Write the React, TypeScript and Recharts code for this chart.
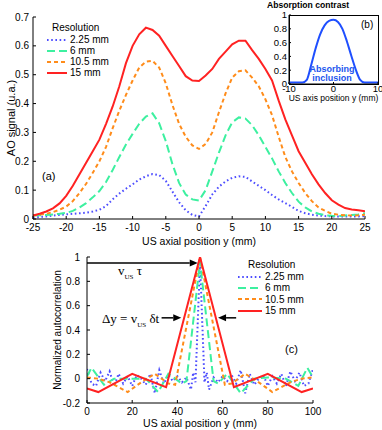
import { LineChart, Line, XAxis, YAxis, Label, ReferenceLine } from 'recharts';

const SANS = '"Liberation Sans", Arial, Helvetica, sans-serif';
const SERIF = '"Liberation Serif", "Times New Roman", serif';

// (a) AO signal along the US axis, one curve per resolution
const positionMm = [
  -25, -24, -23, -22, -21, -20, -19, -18, -17, -16, -15, -14, -13, -12, -11, -10, -9, -8, -7, -6, -5, -4, -3, -2, -1,
  0, 1, 2, 3, 4, 5, 6, 7, 8, 9, 10, 11, 12, 13, 14, 15, 16, 17, 18, 19, 20, 21, 22, 23, 24, 25,
];
const ao225 = [
  0.005, 0.007, 0.009, 0.012, 0.014, 0.016, 0.018, 0.02, 0.022, 0.026, 0.032, 0.045, 0.068, 0.088, 0.105, 0.12, 0.137,
  0.148, 0.156, 0.152, 0.132, 0.095, 0.058, 0.03, 0.014, 0.009, 0.045, 0.085, 0.112, 0.13, 0.143, 0.148, 0.146, 0.13,
  0.115, 0.1, 0.083, 0.068, 0.055, 0.042, 0.028, 0.02, 0.015, 0.012, 0.01, 0.009, 0.009, 0.009, 0.009, 0.009, 0.01,
];
const ao6 = [
  0.012, 0.013, 0.014, 0.016, 0.018, 0.021, 0.028, 0.04, 0.055, 0.075, 0.097, 0.128, 0.17, 0.215, 0.258, 0.295, 0.33,
  0.355, 0.366, 0.332, 0.27, 0.19, 0.125, 0.085, 0.068, 0.064, 0.1, 0.165, 0.23, 0.29, 0.335, 0.352, 0.348, 0.325, 0.29,
  0.25, 0.21, 0.165, 0.125, 0.09, 0.06, 0.04, 0.026, 0.018, 0.013, 0.011, 0.01, 0.012, 0.014, 0.016, 0.02,
];
const ao105 = [
  0.012, 0.015, 0.018, 0.024, 0.032, 0.043, 0.062, 0.09, 0.122, 0.16, 0.2, 0.25, 0.315, 0.375, 0.43, 0.48, 0.525, 0.545,
  0.548, 0.525, 0.47, 0.395, 0.33, 0.285, 0.255, 0.243, 0.26, 0.3, 0.37, 0.435, 0.49, 0.512, 0.515, 0.49, 0.46, 0.415,
  0.36, 0.285, 0.215, 0.165, 0.125, 0.09, 0.062, 0.04, 0.028, 0.018, 0.015, 0.013, 0.012, 0.013, 0.015,
];
const ao15 = [
  0.012, 0.018, 0.026, 0.037, 0.054, 0.08, 0.115, 0.155, 0.195, 0.235, 0.275, 0.33, 0.39, 0.46, 0.54, 0.6, 0.64, 0.663,
  0.655, 0.635, 0.6, 0.565, 0.53, 0.495, 0.48, 0.478, 0.497, 0.52, 0.555, 0.58, 0.605, 0.618, 0.618, 0.585, 0.555, 0.52,
  0.48, 0.41, 0.345, 0.29, 0.235, 0.195, 0.155, 0.12, 0.09, 0.065, 0.05, 0.038, 0.033, 0.03, 0.027,
];
const positionTicks = [-25, -20, -15, -10, -5, 0, 5, 10, 15, 20, 25];
const aoTicks = [0, 0.1, 0.2, 0.3, 0.4, 0.5, 0.6, 0.7];

// (b) inset: absorption contrast of the inclusion
const insetMm = [-10, -9, -8, -7, -6, -5, -4, -3, -2, -1, 0, 1, 2, 3, 4, 5, 6, 7, 8, 9, 10];
const contrast = [0.02, 0.02, 0.02, 0.02, 0.06, 0.28, 0.52, 0.72, 0.85, 0.915, 0.93, 0.9, 0.8, 0.62, 0.41, 0.21, 0.06, 0.02, 0.02, 0.02, 0.02];
const insetXTicks = [-10, 0, 10];
const insetYTicks = [0, 0.2, 0.4, 0.6, 0.8, 1];

// (c) normalized autocorrelation, each resolution on its own sampling
const acPos225 = [
  0, 2, 4, 6, 8, 10, 12, 14, 16, 18, 20, 22, 24, 26, 28, 30, 32, 34, 36, 38, 40, 42, 44, 46, 47, 48, 50, 52, 53, 54, 56,
  58, 60, 62, 64, 66, 68, 70, 72, 74, 76, 78, 80, 82, 84, 86, 88, 90, 92, 94, 96, 98, 100,
];
const ac225 = [
  0.08, -0.04, -0.06, 0.05, -0.02, 0.06, -0.06, 0.04, -0.04, 0.02, -0.06, 0.03, 0.0, -0.05, 0.04, -0.12, 0.07, -0.04,
  0.03, -0.02, 0.02, -0.03, 0.01, -0.09, 0.05, -0.03, 0.96, -0.03, 0.05, -0.09, 0.01, -0.03, 0.02, -0.02, 0.03, -0.04,
  0.07, -0.12, 0.04, -0.05, 0.0, 0.03, -0.06, 0.02, -0.04, 0.04, -0.06, 0.06, -0.02, 0.05, -0.06, -0.04, 0.08,
];
const acPos6 = [0, 2, 7.5, 12, 20, 26, 31.5, 36, 42, 44, 50, 56, 58, 62, 68, 74, 80, 88, 93.5, 97.5, 100];
const ac6 = [0.02, 0.09, -0.05, 0.0, 0.0, 0.0, -0.11, 0.04, -0.04, -0.02, 0.96, -0.02, -0.04, 0.04, -0.12, 0.0, 0.01, 0.0, -0.06, 0.09, 0.01];
const acPos105 = [0, 5, 10, 18, 24, 30, 36, 39, 50, 61, 64, 70, 76, 82, 90, 95, 100];
const ac105 = [0.01, 0.0, -0.03, -0.11, -0.03, 0.04, -0.04, -0.05, 1, -0.05, -0.04, 0.04, -0.03, -0.11, -0.03, 0.0, 0.01];
const acPos15 = [0, 5, 20, 35, 50, 65, 80, 95, 100];
const ac15 = [-0.08, -0.11, 0.04, -0.07, 1, -0.07, 0.04, -0.11, -0.08];
const acXTicks = [0, 20, 40, 60, 80, 100];
const acYTicks = [-0.2, 0, 0.2, 0.4, 0.6, 0.8, 1];

const SERIES = [
  { key: 'r225', name: '2.25 mm', color: '#4d4dff', dash: '1.6 2.6', width: 2 },
  { key: 'r6', name: '6 mm', color: '#3df0a0', dash: '8 4', width: 2 },
  { key: 'r105', name: '10.5 mm', color: '#ff8c1a', dash: '4 3', width: 2 },
  { key: 'r15', name: '15 mm', color: '#ff2222', dash: undefined, width: 2 },
];

const profileData = positionMm.map((y, i) => ({ y, r225: ao225[i], r6: ao6[i], r105: ao105[i], r15: ao15[i] }));
const insetData = insetMm.map((y, i) => ({ y, c: contrast[i] }));
const toPoints = (xs: number[], vs: number[]) => xs.map((x, i) => ({ x, v: vs[i] }));
const acData: Record<string, { x: number; v: number }[]> = {
  r225: toPoints(acPos225, ac225),
  r6: toPoints(acPos6, ac6),
  r105: toPoints(acPos105, ac105),
  r15: toPoints(acPos15, ac15),
};

const tickStyle = (size: number) => ({ fill: '#000', fontSize: size, fontFamily: SANS });
const black = { stroke: '#000' };
const blank = () => '';

function Arrow(props: any) {
  const { x1, y1, x2, y2 } = props;
  const dir = x2 >= x1 ? 1 : -1;
  const head = 8;
  return (
    <g>
      <line x1={x1} y1={y1} x2={x2 - dir * head} y2={y2} stroke="#000" strokeWidth={1.5} />
      <polygon points={`${x2},${y2} ${x2 - dir * head},${y2 - 3.5} ${x2 - dir * head},${y2 + 3.5}`} fill="#000" />
    </g>
  );
}

function ResolutionLegend({ left, top, row, titleRow, sample, indent }: { left: number; top: number; row: number; titleRow: number; sample: number; indent: number }) {
  return (
    <div style={{ position: 'absolute', left, top, fontFamily: SANS, fontSize: 10, color: '#000', lineHeight: `${row}px` }}>
      <div style={{ marginLeft: indent, height: titleRow, lineHeight: `${titleRow}px` }}>Resolution</div>
      {SERIES.map((s) => (
        <div key={s.key} style={{ display: 'flex', alignItems: 'center', height: row, whiteSpace: 'nowrap' }}>
          <svg width={sample} height={6}>
            <line x1={0} y1={3} x2={sample} y2={3} stroke={s.color} strokeWidth={s.width} strokeDasharray={s.dash} />
          </svg>
          <span style={{ marginLeft: 3 }}>{s.name}</span>
        </div>
      ))}
    </div>
  );
}

export default function App() {
  return (
    <div style={{ position: 'absolute', left: 0, top: 0, width: 382, height: 430, background: '#fff', overflow: 'hidden' }}>
      {/* (a) */}
      <div style={{ position: 'absolute', left: 0, top: 0 }}>
        <LineChart width={382} height={250} data={profileData} margin={{ top: 17, right: 17, bottom: 0, left: 0 }}>
          <XAxis dataKey="y" type="number" domain={[-25, 25]} ticks={positionTicks} interval={0} height={31}
            tickSize={-3} tickMargin={8} tick={tickStyle(10)} axisLine={black} tickLine={black} allowDataOverflow>
            <Label value="US axial position y (mm)" position="insideBottom" offset={5} fill="#000" fontSize={10.5} fontFamily={SANS} />
          </XAxis>
          <XAxis xAxisId="top" orientation="top" dataKey="y" type="number" domain={[-25, 25]} ticks={positionTicks}
            interval={0} height={0} tickSize={-3} tickFormatter={blank} axisLine={black} tickLine={black} allowDataOverflow />
          <YAxis type="number" domain={[0, 0.7]} ticks={aoTicks} interval={0} width={33} tickSize={-3} tickMargin={7}
            tick={tickStyle(10)} axisLine={black} tickLine={black} allowDataOverflow>
            <Label value="AO signal (u.a.)" angle={-90} position="insideLeft" offset={11} fill="#000" fontSize={11}
              fontFamily={SANS} style={{ textAnchor: 'middle' }} />
          </YAxis>
          <YAxis yAxisId="right" orientation="right" type="number" domain={[0, 0.7]} ticks={aoTicks} interval={0} width={0}
            tickSize={-3} tickFormatter={blank} axisLine={black} tickLine={black} allowDataOverflow />
          {SERIES.map((s) => (
            <Line key={s.key} type="linear" dataKey={s.key} stroke={s.color} strokeWidth={s.width}
              strokeDasharray={s.dash} dot={false} isAnimationActive={false} />
          ))}
        </LineChart>
      </div>
      <ResolutionLegend left={47} top={21} row={11} titleRow={13} sample={20} indent={5} />
      <div style={{ position: 'absolute', left: 42, top: 170, fontFamily: SANS, fontSize: 11, lineHeight: '13px' }}>(a)</div>

      {/* (b) inset */}
      <div style={{ position: 'absolute', left: 289, top: 15, width: 90, height: 70, boxSizing: 'border-box', border: '1px solid #000', background: '#fff' }} />
      <div style={{ position: 'absolute', left: 260, top: 0 }}>
        <LineChart width={122} height={105} data={insetData} margin={{ top: 15, right: 4, bottom: 0, left: 0 }}>
          <XAxis dataKey="y" type="number" domain={[-10, 10]} ticks={insetXTicks} interval={0} height={21} tickSize={-2}
            tickMargin={3} tick={tickStyle(9.5)} axisLine={black} tickLine={black}>
            <Label value="US axis position y (mm)" position="insideBottom" offset={4.5} fill="#000" fontSize={8.5} fontFamily={SANS} />
          </XAxis>
          <YAxis type="number" domain={[0, 1]} ticks={insetYTicks} interval={0} width={29} tickSize={-2} tickMargin={4}
            tick={tickStyle(9.5)} axisLine={black} tickLine={black} />
          <Line type="monotone" dataKey="c" stroke="#1f4fff" strokeWidth={2} dot={false} isAnimationActive={false} />
        </LineChart>
      </div>
      <div style={{ position: 'absolute', left: 267, top: 0, fontFamily: SANS, fontSize: 8.6, fontWeight: 'bold', lineHeight: '10px', whiteSpace: 'nowrap' }}>
        Absorption contrast
      </div>
      <div style={{ position: 'absolute', left: 361, top: 19, fontFamily: SANS, fontSize: 10, lineHeight: '12px' }}>(b)</div>
      <div style={{ position: 'absolute', left: 300, top: 64.5, width: 64, textAlign: 'center', fontFamily: SANS, fontSize: 9,
        fontWeight: 'bold', lineHeight: '9.5px', color: '#2255ee' }}>
        Absorbing<br />inclusion
      </div>

      {/* (c) */}
      <div style={{ position: 'absolute', left: 0, top: 245 }}>
        <LineChart width={382} height={185} margin={{ top: 12, right: 69, bottom: 0, left: 0 }}>
          <XAxis dataKey="x" type="number" domain={[0, 100]} ticks={acXTicks} interval={0} height={27} tickSize={-3}
            tickMargin={8} tick={tickStyle(10)} axisLine={black} tickLine={black} allowDataOverflow>
            <Label value="US axial position y (mm)" position="insideBottom" offset={3.5} fill="#000" fontSize={10.5} fontFamily={SANS} />
          </XAxis>
          <XAxis xAxisId="top" orientation="top" dataKey="x" type="number" domain={[0, 100]} ticks={acXTicks} interval={0}
            height={0} tickSize={-3} tickFormatter={blank} axisLine={black} tickLine={black} allowDataOverflow />
          <YAxis type="number" domain={[-0.2, 1]} ticks={acYTicks} interval={0} width={87} tickSize={-3} tickMargin={10}
            tick={tickStyle(10)} axisLine={black} tickLine={black} allowDataOverflow>
            <Label value="Normalized autocorrelation" angle={-90} position="insideLeft" offset={57.5} fill="#000"
              fontSize={10} fontFamily={SANS} style={{ textAnchor: 'middle' }} />
          </YAxis>
          <YAxis yAxisId="right" orientation="right" type="number" domain={[-0.2, 1]} ticks={acYTicks} interval={0} width={0}
            tickSize={-3} tickFormatter={blank} axisLine={black} tickLine={black} allowDataOverflow />
          {SERIES.map((s) => (
            <Line key={s.key} data={acData[s.key]} type="linear" dataKey="v" stroke={s.color} strokeWidth={s.width}
              strokeDasharray={s.dash} dot={false} isAnimationActive={false} />
          ))}
          <ReferenceLine segment={[{ x: 0, y: 0.95 }, { x: 49, y: 0.95 }]} shape={Arrow} />
          <ReferenceLine segment={[{ x: 33, y: 0.5 }, { x: 41.7, y: 0.5 }]} shape={Arrow} />
          <ReferenceLine segment={[{ x: 66, y: 0.5 }, { x: 58, y: 0.5 }]} shape={Arrow} />
        </LineChart>
      </div>
      <ResolutionLegend left={238} top={259} row={11.3} titleRow={12} sample={24} indent={10} />
      <div style={{ position: 'absolute', left: 118, top: 263, fontFamily: SERIF, fontSize: 13, lineHeight: '15px' }}>
        v<sub style={{ fontSize: 7 }}>US</sub> τ
      </div>
      <div style={{ position: 'absolute', left: 102, top: 311, fontFamily: SERIF, fontSize: 13, lineHeight: '15px', whiteSpace: 'nowrap' }}>
        Δy = v<sub style={{ fontSize: 7 }}>US</sub> δt
      </div>
      <div style={{ position: 'absolute', left: 285, top: 343, fontFamily: SANS, fontSize: 11, lineHeight: '13px' }}>(c)</div>
    </div>
  );
}
